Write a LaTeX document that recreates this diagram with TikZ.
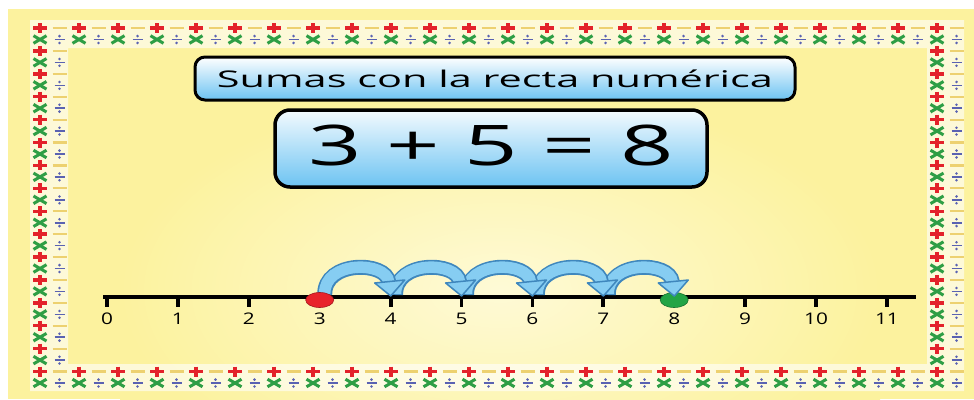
\documentclass[tikz,border=0pt]{standalone}
\usepackage{fontspec}
\setmainfont{Open Sans}
\usetikzlibrary{calc,shapes.geometric}
\definecolor{bgyellow}{HTML}{FCF29E}
\definecolor{bglight}{HTML}{FEFAD6}
\definecolor{mred}{HTML}{E3222B}
\definecolor{mgold}{HTML}{EDD170}
\definecolor{mgreen}{HTML}{2E9E45}
\definecolor{mblue}{HTML}{5A62B2}
\definecolor{boxblue}{HTML}{6CC3F2}
\definecolor{arrlight}{HTML}{86CDF2}
\definecolor{arrdark}{HTML}{3F87BD}
\definecolor{dotred}{HTML}{E8232B}
\definecolor{dotgreen}{HTML}{23A445}
\begin{document}
\begin{tikzpicture}[x=1pt,y=-1pt,
  pplus/.pic={\draw[mred,line width=3.4pt] (-7,0)--(7,0) (0,-5)--(0,5);},
  pdash/.pic={\draw[mgold,line width=2.2pt] (-7,0)--(7,0);},
  ptimes/.pic={\draw[mgreen,line width=3pt] (-6.5,-3.8)--(6.5,3.8) (-6.5,3.8)--(6.5,-3.8);},
  pdiv/.pic={\draw[mblue,line width=1.6pt] (-5,0)--(5,0); \fill[mblue] (0,-3.4) circle (1.4) (0,3.4) circle (1.4);},
  titlebox/.style={draw=black, line width=3pt, rounded corners=10pt, top color=white, bottom color=boxblue, inner sep=0pt},
  eqbox/.style={draw=black, line width=3.5pt, rounded corners=15pt, top color=white!92!boxblue, bottom color=boxblue, inner sep=0pt},
  numlabel/.style={font=\fontsize{16}{16}\selectfont, inner sep=0pt},
  shaftdark/.style={arrdark, line width=15pt},
  shaftlight/.style={arrlight, line width=11.5pt},
  headstyle/.style={fill=arrlight, draw=arrdark, line width=1.5pt, line join=round},
  dotstyle/.style={ellipse, draw, line width=0.6pt, minimum width=28pt, minimum height=15pt, inner sep=0pt}
]
\useasboundingbox (0,0) rectangle (974,399);
% background
\fill[white] (0,0) rectangle (974,399);
\fill[bgyellow] (8,9) rectangle (974,399);
\begin{scope}
  \clip (8,9) rectangle (974,399);
  \shade[inner color=bglight, outer color=bgyellow] (120,90) rectangle (880,490);
\end{scope}
% white band behind border
\fill[white, opacity=0.6, even odd rule] (30,20) rectangle (964,391) (68,48) rectangle (927,364);
% border symbols
\foreach \k in {0,...,23} {
  \pgfmathsetmacro\xa{40+39*\k}
  \pgfmathsetmacro\xb{59.5+39*\k}
  \pic at (\xa,28) {pplus};
  \pic at (\xb,28) {pdash};
  \pic at (\xa,39.5) {ptimes};
  \pic at (\xb,39.5) {pdiv};
  \pic at (\xa,371.5) {pplus};
  \pic at (\xb,371.5) {pdash};
  \pic at (\xa,383) {ptimes};
  \pic at (\xb,383) {pdiv};
}
\foreach \m in {1,...,14} {
  \pgfmathsetmacro\ya{28+22.9*\m}
  \pgfmathsetmacro\yb{39.5+22.9*\m}
  \pic at (40,\ya) {pplus};
  \pic at (59.5,\ya) {pdash};
  \pic at (40,\yb) {ptimes};
  \pic at (59.5,\yb) {pdiv};
  \pic at (937,\ya) {pplus};
  \pic at (956.5,\ya) {pdash};
  \pic at (937,\yb) {ptimes};
  \pic at (956.5,\yb) {pdiv};
}
% title and equation
\node[titlebox, minimum width=600pt, minimum height=43pt] (title) at (495,78.5)
  {\resizebox{556pt}{\height}{\fontsize{23}{23}\selectfont Sumas con la recta numérica}};
\node[eqbox, minimum width=432pt, minimum height=77pt, text depth=7pt] (eq) at (491,148.5)
  {\resizebox{365pt}{\height}{\fontsize{56}{56}\selectfont 3 + 5 = 8}};
% number line
\foreach \i in {0,...,11} {
  \pgfmathsetmacro\xx{107+70.9*\i}
  \coordinate (t\i) at (\xx,297);
}
\coordinate (lineL) at (103,297);
\coordinate (lineR) at (916,297);
\draw[line width=3.6pt] (lineL) -- (lineR);
\foreach \i in {0,...,11} {
  \draw[line width=3.8pt] (t\i) -- ($(t\i)+(0,9.5)$);
  \node[numlabel] (l\i) at ($(t\i)+(0,22)$) {\scalebox{1.3}[1]{\i}};
}
\node[dotstyle, draw=dotgreen!70!black, fill=dotgreen] (gdot) at ($(t8)+(0,3)$) {};
% jump arrows
\foreach \i in {7,6,5,4,3} {
  \draw[shaftdark] ($(t\i)+(5,-2)$) .. controls ($(t\i)+(4,-37)$) and ($(t\i)+(67,-36)$) .. ($(t\i)+(69,-15)$);
  \draw[shaftlight] ($(t\i)+(5,-3)$) .. controls ($(t\i)+(4,-37)$) and ($(t\i)+(67,-36)$) .. ($(t\i)+(69,-15)$);
  \filldraw[headstyle] ($(t\i)+(55,-14)$) -- ($(t\i)+(85,-17)$) -- ($(t\i)+(71,-1)$) -- cycle;
}
\node[dotstyle, draw=dotred!70!black, fill=dotred] (rdot) at ($(t3)+(0,3)$) {};
\end{tikzpicture}
\end{document}
